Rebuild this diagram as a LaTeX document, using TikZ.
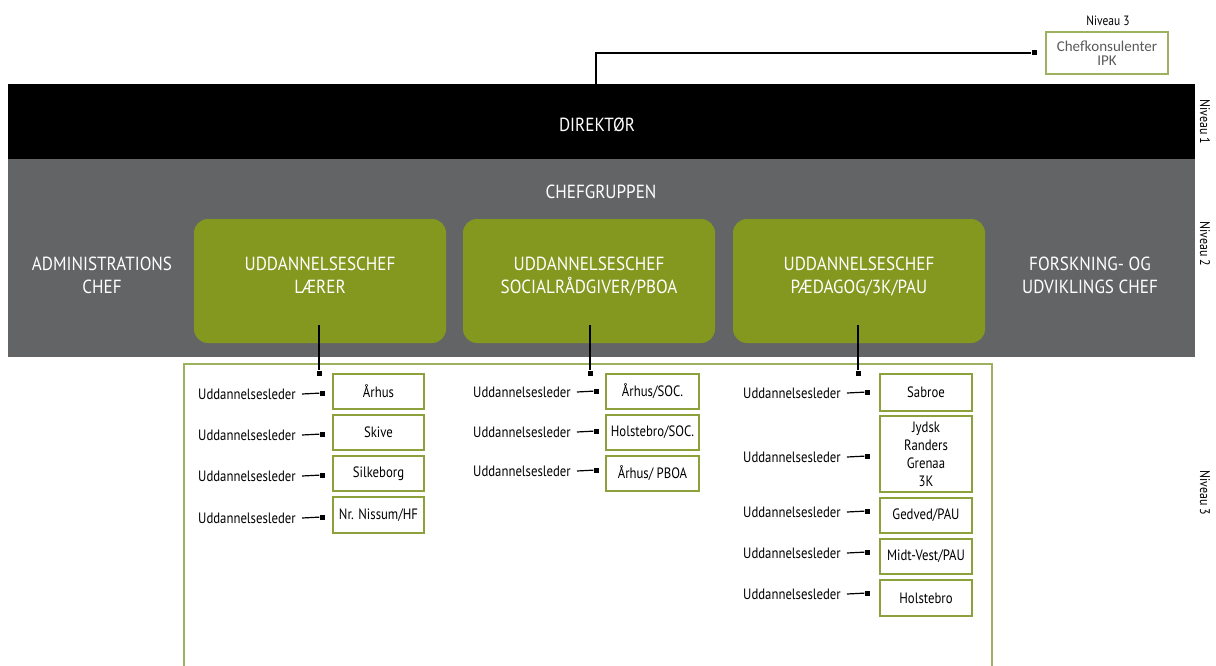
\documentclass[tikz,border=0pt]{standalone}
\usepackage{fontspec}
\setmainfont{PT Sans}
\newfontfamily\cond[FakeStretch=0.85]{PT Sans}
\newfontfamily\bigcond[FakeStretch=0.9]{PT Sans}
\newfontfamily\soft{Carlito}
\definecolor{band}{HTML}{636466}
\definecolor{olive}{HTML}{84981F}
\definecolor{frame}{HTML}{9DB25E}
\definecolor{boxline}{HTML}{8CA13C}
\definecolor{softgray}{HTML}{5A5A5A}
\begin{document}
\begin{tikzpicture}[x=1pt,y=-1pt,
  bigtxt/.style={font=\bigcond\fontsize{19}{22}\selectfont, text=white, anchor=base, inner sep=0},
  chief/.style={fill=olive, rounded corners=14pt, minimum width=252pt, minimum height=124pt, inner sep=0},
  unit/.style={draw=boxline, line width=1.5pt, fill=white, font=\cond\fontsize{15}{18}\selectfont, inner sep=0, align=center},
  lead/.style={font=\cond\fontsize{15}{18}\selectfont, anchor=west, inner sep=3pt},
  marker/.style={fill=black, minimum size=5pt, inner sep=0},
  conn/.style={draw=black, line width=1.2pt},
  lvl/.style={font=\cond\fontsize{14}{16}\selectfont, rotate=-90, inner sep=0}
]
\useasboundingbox (0,0) rectangle (1216,666);

% bands
\node[fill=black, minimum width=1187pt, minimum height=75pt, inner sep=0, anchor=north west] (dirband) at (8,84) {};
\node[fill=band, minimum width=1187pt, minimum height=198pt, inner sep=0, anchor=north west] (chefband) at (8,159) {};

\node[bigtxt] (dirtxt) at (597,132) {DIREKTØR};
\node[bigtxt] (cgtxt) at (601,198) {CHEFGRUPPEN};

\node[bigtxt] (adm1) at (102,270) {ADMINISTRATIONS};
\node[bigtxt] (adm2) at (102,293) {CHEF};
\node[bigtxt] (fou1) at (1090,270) {FORSKNING- OG};
\node[bigtxt] (fou2) at (1090,293) {UDVIKLINGS CHEF};

% chief boxes
\node[chief] (g1) at (320,281) {};
\node[chief] (g2) at (589,281) {};
\node[chief] (g3) at (859,281) {};
\node[bigtxt] (g1a) at (320,270) {UDDANNELSESCHEF};
\node[bigtxt] (g1b) at (320,293) {LÆRER};
\node[bigtxt] (g2a) at (589,270) {UDDANNELSESCHEF};
\node[bigtxt] (g2b) at (589,293) {SOCIALRÅDGIVER/PBOA};
\node[bigtxt] (g3a) at (859,270) {UDDANNELSESCHEF};
\node[bigtxt] (g3b) at (859,293) {PÆDAGOG/3K/PAU};

% top consultant
\node[draw=frame, line width=1.5pt, minimum width=122pt, minimum height=42pt, inner sep=0, align=center,
      font=\soft\fontsize{15}{14.5}\selectfont, text=softgray] (ipk) at (1107,53) {Chefkonsulenter\\IPK};
\node[font=\cond\fontsize{13.5}{14}\selectfont, anchor=base, inner sep=0] (ipklvl) at (1108,26) {Niveau 3};
\coordinate (dtop) at (596,84);
\node[marker] (mipk) at (1034,53) {};
\draw[conn] (dtop) |- (mipk);

% level labels
\node[lvl] (lv1) at (1205,122) {Niveau 1};
\node[lvl] (lv2) at (1205,244) {Niveau 2};
\node[lvl] (lv3) at (1205,493) {Niveau 3};

% frame of level 3
\draw[frame, line width=1.5pt] (184,670) |- (992,364) -- (992,670);

% column 1
\coordinate (c1top) at (319,325);
\node[marker] (v1) at (319,373) {};
\draw[conn] (c1top) -- (v1);
\node[unit, minimum width=91pt, minimum height=35pt] (a1) at (378.5,391.5) {Århus};
\node[unit, minimum width=91pt, minimum height=35pt] (a2) at (378.5,432.5) {Skive};
\node[unit, minimum width=91pt, minimum height=35pt] (a3) at (378.5,473.5) {Silkeborg};
\node[unit, minimum width=91pt, minimum height=36pt] (a4) at (378.5,515) {Nr. Nissum/HF};
\foreach \i/\y in {1/393,2/434,3/475,4/517}{
  \node[lead] (la\i) at (195,\y+1) {Uddannelsesleder};
  \node[marker] (ma\i) at (322,\y) {};
  \draw[conn] ([xshift=3pt]la\i.east) -- (ma\i);
}

% column 2
\coordinate (c2top) at (590,325);
\node[marker] (v2) at (590,373) {};
\draw[conn] (c2top) -- (v2);
\node[unit, minimum width=93pt, minimum height=35pt] (b1) at (652.5,391.5) {Århus/SOC.};
\node[unit, minimum width=93pt, minimum height=35pt] (b2) at (652.5,432.5) {Holstebro/SOC.};
\node[unit, minimum width=93pt, minimum height=35pt] (b3) at (652.5,473.5) {Århus/ PBOA};
\foreach \i/\y in {1/391,2/431,3/470}{
  \node[lead] (lb\i) at (470,\y+1) {Uddannelsesleder};
  \node[marker] (mb\i) at (596,\y) {};
  \draw[conn] ([xshift=3pt]lb\i.east) -- (mb\i);
}

% column 3
\coordinate (c3top) at (858,325);
\node[marker] (v3) at (858,373) {};
\draw[conn] (c3top) -- (v3);
\node[unit, minimum width=92pt, minimum height=37pt] (d1) at (926,392.5) {Sabroe};
\node[unit, minimum width=92pt, minimum height=76pt] (d2) at (926,454) {Jydsk\\Randers\\Grenaa\\3K};
\node[unit, minimum width=92pt, minimum height=35pt] (d3) at (926,515.5) {Gedved/PAU};
\node[unit, minimum width=92pt, minimum height=35pt] (d4) at (926,556.5) {Midt-Vest/PAU};
\node[unit, minimum width=92pt, minimum height=36pt] (d5) at (926,598) {Holstebro};
\foreach \i/\y in {1/392,2/456,3/511,4/552,5/593}{
  \node[lead] (ld\i) at (740,\y+1) {Uddannelsesleder};
  \node[marker] (md\i) at (867,\y) {};
  \draw[conn] ([xshift=3pt]ld\i.east) -- (md\i);
}
\end{tikzpicture}
\end{document}
